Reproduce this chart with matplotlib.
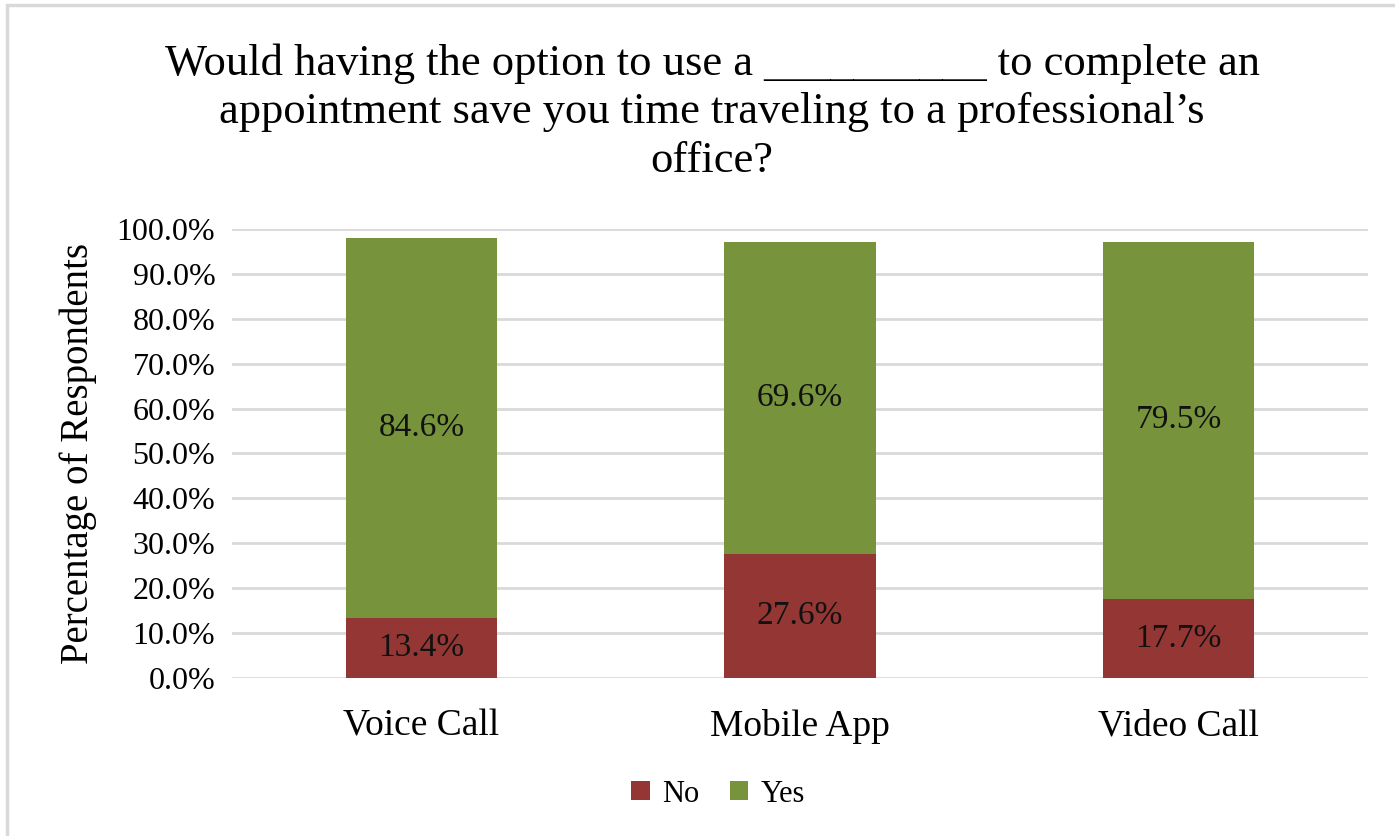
import matplotlib
matplotlib.use("Agg")
import matplotlib.pyplot as plt
from matplotlib.patches import Rectangle
from matplotlib.ticker import FuncFormatter

categories = ["Voice Call", "Mobile App", "Video Call"]
no_values = [13.4, 27.6, 17.7]
yes_values = [84.6, 69.6, 79.5]
y_ticks = [0, 10, 20, 30, 40, 50, 60, 70, 80, 90, 100]

title = ("Would having the option to use a __________ to complete an\n"
         "appointment save you time traveling to a professional\u2019s\n"
         "office?")

NO_COLOR = "#943634"
YES_COLOR = "#77933C"
GRID_COLOR = "#d9d9d9"

plt.rcParams["font.family"] = ["Liberation Serif", "DejaVu Serif"]

fig = plt.figure(figsize=(13.95, 8.36), dpi=100)
ax = fig.add_axes([232 / 1395, 1 - 678 / 836, (1368 - 232) / 1395, (678 - 229) / 836])

# outer chart frame (top and left edges visible)
fig.patches.append(Rectangle((7 / 1395, -0.1), 1.2, (836 - 5) / 836 + 0.1,
                             transform=fig.transFigure, fill=False,
                             edgecolor=GRID_COLOR, linewidth=2.5))

x = list(range(len(categories)))
width = 0.40
bars_no = ax.bar(x, no_values, width, color=NO_COLOR, label="No", zorder=3)
bars_yes = ax.bar(x, yes_values, width, bottom=no_values, color=YES_COLOR,
                  label="Yes", zorder=3)

for i in x:
    ax.text(i, no_values[i] / 2, f"{no_values[i]:.1f}%", ha="center",
            va="center", fontsize=24, color="#111111", zorder=4)
    ax.text(i, no_values[i] + yes_values[i] / 2, f"{yes_values[i]:.1f}%",
            ha="center", va="center", fontsize=24, color="#111111", zorder=4)

ax.set_xlim(-0.5, 2.5)
ax.set_ylim(0, 100)
ax.set_yticks(y_ticks)
ax.yaxis.set_major_formatter(FuncFormatter(lambda v, p: f"{v:.1f}%"))
ax.set_xticks(x)
ax.set_xticklabels(categories)
ax.tick_params(axis="x", labelsize=27, length=0, pad=22)
ax.tick_params(axis="y", labelsize=23, length=0, pad=12)
ax.yaxis.grid(True, color=GRID_COLOR, linewidth=2, zorder=0)
ax.set_axisbelow(True)
for s in ax.spines.values():
    s.set_visible(False)

ax.set_ylabel("Percentage of Respondents", fontsize=28, labelpad=14)

fig.text(712 / 1395, 1 - 112 / 836, title, ha="center", va="center",
         fontsize=32, linespacing=1.27)

leg = fig.legend(handles=[bars_no, bars_yes], labels=["No", "Yes"],
                 loc="center", bbox_to_anchor=(718 / 1395, 1 - 794 / 836),
                 ncol=2, frameon=False, fontsize=22, handlelength=0.6,
                 handleheight=0.6, handletextpad=0.4, columnspacing=1.0)

fig.savefig("out.png", dpi=100, facecolor="white")
